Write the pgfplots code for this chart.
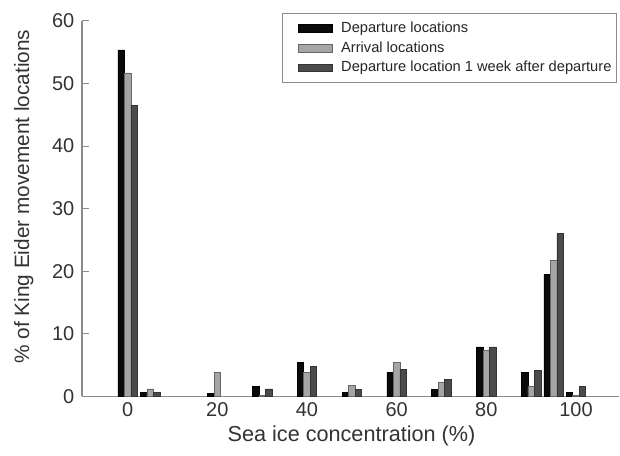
\documentclass[border=0pt]{standalone}
\usepackage{fontspec}
\setmainfont{Liberation Sans}
\usepackage{pgfplots}
\pgfplotsset{compat=1.18}

\definecolor{cblack}{RGB}{10,10,10}
\definecolor{cgrey}{RGB}{165,165,165}
\definecolor{cdark}{RGB}{75,75,75}
\definecolor{caxis}{RGB}{140,140,140}

\begin{document}
\begin{tikzpicture}
% 1 px of the reference = 0.6pt
\path[use as bounding box] (-49.2pt,-35.4pt) rectangle (323.4pt,238.2pt);
\begin{axis}[
  scale only axis,
  width=322.8pt, height=225.6pt,
  ybar,
  bar width=1.45,
  xmin=-10.2, xmax=109.6,
  ymin=0, ymax=60,
  xtick={0,20,40,60,80,100},
  ytick={0,10,20,30,40,50,60},
  axis x line=bottom, axis y line=left,
  axis line style={-, caxis, line width=0.8pt},
  xtick style={draw=none},
  ytick style={caxis, line width=0.6pt},
  tick align=inside,
  major tick length=4pt,
  tick label style={font=\fontsize{12}{14}\selectfont, text=black!80},
  yticklabel style={xshift=-1pt},
  /pgf/number format/assume math mode=true,
  xlabel={Sea ice concentration (\%)},
  ylabel={\% of King Eider movement locations},
  every axis x label/.style={at={(rel axis cs:0.502,0)}, yshift=-24pt, anchor=center,
    font=\fontsize{13}{15}\selectfont, text=black!80},
  every axis y label/.style={at={(rel axis cs:0,0.532)}, xshift=-35pt, rotate=90, anchor=center,
    font=\fontsize{12.5}{15}\selectfont, text=black!80},
  legend style={
    at={(rel axis cs:0.996,1.021)}, anchor=north east,
    draw=caxis, line width=0.5pt,
    font=\fontsize{8.8}{10}\selectfont,
    text=black!85,
    row sep=0pt,
    inner xsep=1pt, inner ysep=3pt,
    cells={anchor=west},
  },
  legend image code/.code={
    \draw[#1, line width=0.3pt] (0pt,-2.3pt) rectangle (20.4pt,2.3pt);
    \path (-8pt,0pt) (23.9pt,0pt);},
]
\addplot[fill=cblack, draw=black, line width=0.3pt, bar shift=-1.45] coordinates {
  (0,55.4)(5,0.6)(20,0.5)(30,1.6)(40,5.4)(50,0.6)(60,3.8)(70,1.1)(80,7.9)(90,3.8)(95,19.5)(100,0.6)};
\addlegendentry{Departure locations}
\addplot[fill=cgrey, draw=black!60, line width=0.3pt, bar shift=0] coordinates {
  (0,51.7)(5,1.2)(20,3.8)(30,0.2)(40,3.8)(50,1.7)(60,5.4)(70,2.2)(80,7.3)(90,1.6)(95,21.7)(100,0.2)};
\addlegendentry{Arrival locations}
\addplot[fill=cdark, draw=black!80, line width=0.3pt, bar shift=1.45] coordinates {
  (0,46.5)(5,0.6)(30,1.2)(40,4.8)(50,1.1)(60,4.3)(70,2.7)(80,7.9)(90,4.2)(95,26.0)(100,1.6)};
\addlegendentry{Departure location 1 week after departure}
\end{axis}
\end{tikzpicture}
\end{document}
